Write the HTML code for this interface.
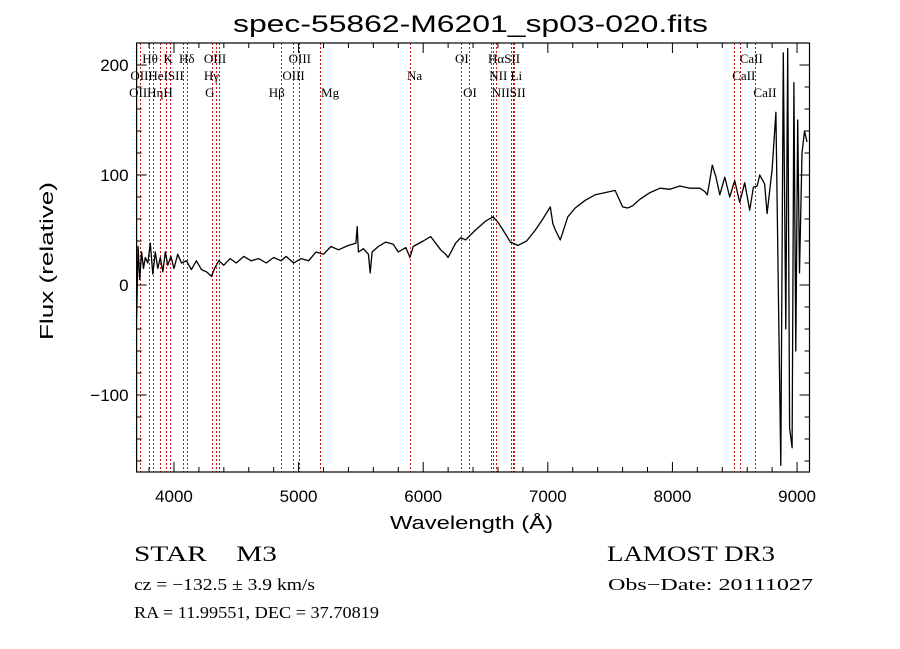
<!DOCTYPE html>
<html><head><meta charset="utf-8">
<style>
html,body{margin:0;padding:0;background:#fff;}
#wrap{position:relative;width:900px;height:649px;overflow:hidden;background:#fff;}
svg{position:absolute;left:0;top:0;}
.t{font-family:"Liberation Serif",serif;fill:#000;}
.s{font-family:"Liberation Sans",sans-serif;fill:#000;}
</style></head>
<body>
<div id="wrap">
<svg id="chart" width="900" height="649" xmlns="http://www.w3.org/2000/svg">
<text class="s" x="233" y="32" font-size="24" textLength="475" lengthAdjust="spacingAndGlyphs">spec-55862-M6201_sp03-020.fits</text>
<text class="s" x="390" y="529" font-size="18" textLength="163" lengthAdjust="spacingAndGlyphs">Wavelength (Å)</text>
<text class="s" x="0" y="0" font-size="18" textLength="158" lengthAdjust="spacingAndGlyphs" transform="translate(53 340) rotate(-90)">Flux (relative)</text>
<text class="t" x="134" y="561" font-size="22" textLength="143" lengthAdjust="spacingAndGlyphs">STAR&#160;&#160;&#160;&#160;M3</text>
<text class="t" x="607" y="561" font-size="22" textLength="168" lengthAdjust="spacingAndGlyphs">LAMOST DR3</text>
<text class="t" x="134" y="590" font-size="17" textLength="181" lengthAdjust="spacingAndGlyphs">cz = −132.5 ± 3.9 km/s</text>
<text class="t" x="608" y="590" font-size="17" textLength="205" lengthAdjust="spacingAndGlyphs">Obs−Date: 20111027</text>
<text class="t" x="134" y="618" font-size="17" textLength="245" lengthAdjust="spacingAndGlyphs">RA =  11.99551, DEC =  37.70819</text>
<g id="plot"></g>
</svg>
</div>
<script>
const lineWaves=[3727,3798,3835,3889,3934,3969,4072,4102,4304,4340,4363,4861,4959,5007,5175,5894,6300,6364,6548,6563,6583,6708,6717,6731,8498,8542,8662];
const lineLabels=[["Hθ",3745,57],["K",3915,57],["Hδ",4040,57],["OIII",4240,57],["OIII",4920,57],["OI",6255,57],["HαSII",6520,57],["CaII",8540,57],
["OIIHeISII",3650,74],["Hγ",4240,74],["OIII",4870,74],["Na",5870,74],["NII Li",6530,74],["CaII",8480,74],
["OIIHηH",3640,91],["G",4250,91],["Hβ",4760,91],["Mg",5180,91],["OI",6320,91],["NIISII",6550,91],["CaII",8650,91]];
const waves=[3700,3712,3725,3740,3755,3770,3790,3810,3830,3850,3870,3890,3910,3930,3950,3975,4000,4030,4060,4100,4140,4180,4220,4260,4300,4330,4360,4400,4450,4500,4560,4620,4680,4740,4800,4860,4900,4960,5020,5080,5140,5200,5260,5320,5400,5460,5470,5480,5520,5560,5575,5590,5640,5700,5760,5800,5860,5894,5920,6000,6060,6100,6140,6180,6200,6260,6300,6340,6420,6500,6560,6600,6640,6700,6760,6830,6900,6960,7020,7040,7060,7100,7120,7160,7220,7300,7380,7460,7540,7600,7640,7680,7740,7820,7900,7980,8060,8140,8220,8260,8280,8300,8320,8350,8380,8420,8460,8500,8540,8580,8620,8650,8680,8700,8740,8760,8800,8830,8850,8870,8890,8910,8925,8940,8960,8975,8990,9005,9020,9040,9060,9080];
const flux=[-30,35,5,30,15,25,20,38,10,30,15,25,12,30,18,26,15,28,20,22,14,22,14,12,8,16,22,18,24,20,26,22,24,20,25,22,26,20,24,22,30,28,35,32,36,38,53,30,33,28,11,30,35,39,37,30,34,25,35,40,44,38,32,28,25,38,43,41,50,58,62,57,50,39,36,40,50,60,71,56,50,41,48,62,70,77,82,84,86,71,70,72,78,84,88,87,90,88,88,85,82,95,109,98,82,98,80,95,75,93,68,89,90,100,92,65,105,157,-2,-164,211,-40,215,-130,-148,184,-60,150,11,120,140,130];
const X0=136.6,X1=809.5,Y0=43,Y1=472;
const xs=w=>X0+(w-3700)*(X1-X0)/(9100-3700);
const ys=f=>Y1-(f+170)*(Y1-Y0)/390;
const NS="http://www.w3.org/2000/svg";
const g=document.getElementById('plot');
function mk(tag,attrs){const e=document.createElementNS(NS,tag);for(const k in attrs)e.setAttribute(k,attrs[k]);g.appendChild(e);return e;}
lineWaves.forEach(w=>{const px=Math.round(xs(w))+0.5;const e=mk('line',{x1:px,x2:px,y1:Y0,y2:Y1,stroke:'#c81414','stroke-width':1,'stroke-dasharray':'2,2'});

});
lineLabels.forEach(l=>{const e=mk('text',{x:xs(l[1]),y:l[2]+6,'font-size':13,class:'t'});e.textContent=l[0];

});
let d='';waves.forEach((w,i)=>{d+=(i?'L':'M')+xs(w).toFixed(1)+','+ys(flux[i]).toFixed(1);});
const sp=mk('path',{d:d,fill:'none',stroke:'#000','stroke-width':1.3,'stroke-linejoin':'round'});


const fr=mk('rect',{x:X0,y:Y0,width:X1-X0,height:Y1-Y0,fill:'none',stroke:'#000','stroke-width':1.2});


for(let w=3800;w<=9100;w+=200){const maj=w%1000===0;const len=maj?10:5;
mk('line',{x1:xs(w),x2:xs(w),y1:Y1,y2:Y1-len,stroke:'#000'});mk('line',{x1:xs(w),x2:xs(w),y1:Y0,y2:Y0+len,stroke:'#000'});
if(maj){const t=mk('text',{x:xs(w),y:Y1+30,'font-size':17,'text-anchor':'middle',class:'s'});t.textContent=w;

}}
for(let f=-160;f<=220;f+=20){const maj=f%100===0;const len=maj?10:5;
mk('line',{x1:X0,x2:X0+len,y1:ys(f),y2:ys(f),stroke:'#000'});mk('line',{x1:X1,x2:X1-len,y1:ys(f),y2:ys(f),stroke:'#000'});
if(maj){const t=mk('text',{x:X0-8,y:ys(f)+6,'font-size':17,'text-anchor':'end',class:'s'});t.textContent=f<0?'−'+(-f):f;

}}
</script>
</body></html>
